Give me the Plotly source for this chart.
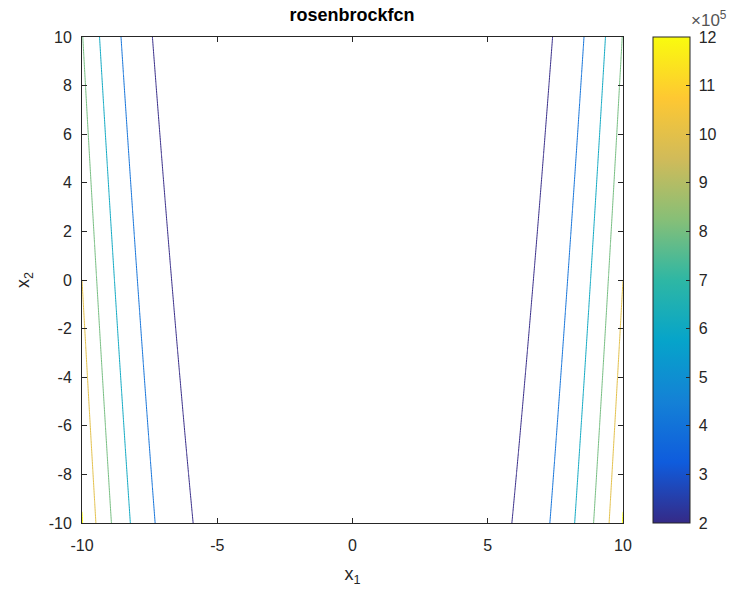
import numpy as np
import plotly.graph_objects as go

# Rosenbrock function sampled over the plotted domain
x1 = np.linspace(-10, 10, 301)
x2 = np.linspace(-10, 10, 301)
X1, X2 = np.meshgrid(x1, x2)
Z = 100.0 * (X2 - X1**2) ** 2 + (1.0 - X1) ** 2

level_start = 2e5
level_end = 12e5
level_step = 2e5

xtick_vals = [-10, -5, 0, 5, 10]
xtick_text = ["-10", "-5", "0", "5", "10"]
ytick_vals = [-10, -8, -6, -4, -2, 0, 2, 4, 6, 8, 10]
ytick_text = ["-10", "-8", "-6", "-4", "-2", "0", "2", "4", "6", "8", "10"]
cbar_tick_vals = [2e5, 3e5, 4e5, 5e5, 6e5, 7e5, 8e5, 9e5, 10e5, 11e5, 12e5]
cbar_tick_text = ["2", "3", "4", "5", "6", "7", "8", "9", "10", "11", "12"]

parula = [
    [0.000, "#352a87"],
    [0.125, "#0f5cdd"],
    [0.250, "#1481d6"],
    [0.375, "#06a4ca"],
    [0.500, "#2eb7a4"],
    [0.625, "#87bf77"],
    [0.750, "#d1bb59"],
    [0.875, "#fec832"],
    [1.000, "#f9fb0e"],
]

FONT = "Liberation Sans, Arial, Helvetica, sans-serif"
AX = "#262626"
L, R, T, B = 82, 623, 37, 523
W, H = 736, 594
pw = R - L

fig = go.Figure()
fig.add_trace(
    go.Contour(
        x=x1, y=x2, z=Z,
        colorscale=parula,
        zmin=level_start, zmax=level_end, zauto=False,
        autocontour=False,
        contours=dict(start=level_start, end=level_end, size=level_step,
                      coloring="lines", showlabels=False),
        line=dict(width=1),
        hoverinfo="skip",
        showscale=False,
    )
)
# gradient colour bar (no visible marks)
fig.add_trace(
    go.Scatter(
        x=[None], y=[None], mode="markers", hoverinfo="skip",
        marker=dict(
            color=[level_start, level_end], colorscale=parula,
            cmin=level_start, cmax=level_end, showscale=True,
            colorbar=dict(
                x=(653 - L) / pw, xanchor="left", xref="paper",
                y=0.5, yanchor="middle", len=1.0, lenmode="fraction",
                thickness=37, thicknessmode="pixels",
                outlinewidth=1, outlinecolor=AX,
                tickmode="array", tickvals=cbar_tick_vals,
                ticktext=[" " + t for t in cbar_tick_text],
                ticks="inside", ticklen=4, tickcolor=AX,
                tickfont=dict(family=FONT, size=16, color=AX),
                ticklabelposition="outside",
                xpad=0, ypad=0,
            ),
        ),
    )
)

axis_common = dict(
    showgrid=False, zeroline=False, showline=True, linecolor=AX, linewidth=1,
    mirror="ticks", ticks="inside", ticklen=5, tickcolor=AX, tickwidth=1,
    tickfont=dict(family=FONT, size=16, color=AX),
)

fig.update_layout(
    width=W, height=H,
    margin=dict(l=L, r=W - R, t=T, b=H - B),
    paper_bgcolor="white", plot_bgcolor="white",
    xaxis=dict(range=[-10, 10], tickvals=xtick_vals, ticktext=xtick_text, ticklabelstandoff=8,
               title=dict(text="x<sub>1</sub>", font=dict(family=FONT, size=18, color=AX), standoff=14),
               **axis_common),
    yaxis=dict(range=[-10, 10], tickvals=ytick_vals, ticktext=ytick_text, ticklabelstandoff=6,
               title=dict(text="x<sub>2</sub>", font=dict(family=FONT, size=18, color=AX), standoff=14),
               **axis_common),
    title=dict(text="<b>rosenbrockfcn</b>", x=352 / W, xanchor="center",
               y=1 - 15 / H, yanchor="middle",
               font=dict(family=FONT, size=18, color="black")),
    showlegend=False,
    annotations=[
        dict(text="×10<sup>5</sup>", xref="paper", yref="paper",
             x=(729 - L) / pw, y=1 + 18 / (B - T), xanchor="right", yanchor="middle",
             showarrow=False, font=dict(family=FONT, size=17, color="#555555")),
    ],
)

fig.write_html("out.html")
